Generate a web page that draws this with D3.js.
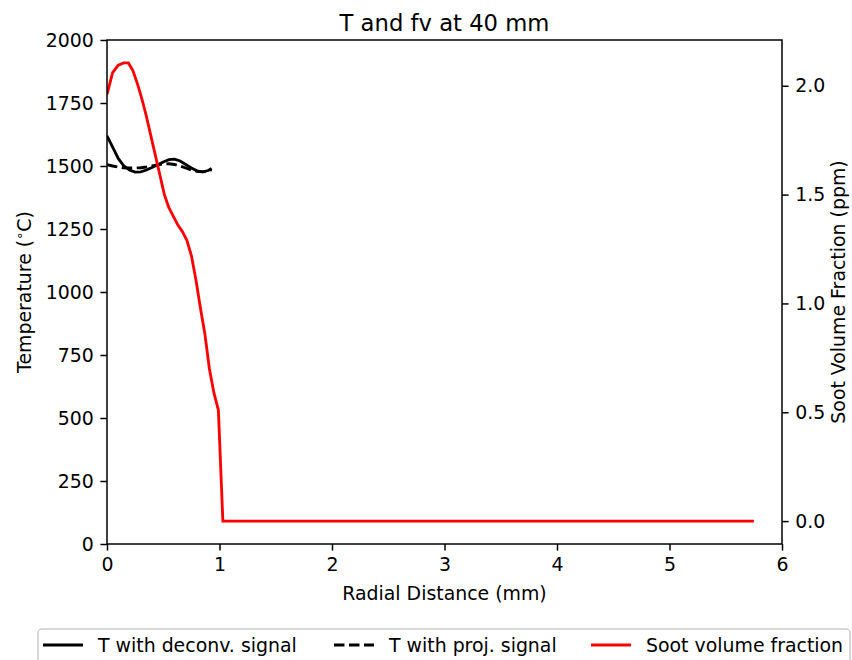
<!DOCTYPE html>
<html>
<head>
<meta charset="utf-8">
<script src="https://cdn.jsdelivr.net/npm/d3@7"></script>
<style>
  body { margin: 0; background: #fff; }
  text { font-family: "DejaVu Sans", sans-serif; fill: #000; }
</style>
</head>
<body>
<div id="grafico"></div>
<script>
// Radial positions (mm) and temperatures (°C)
const tempX = [0, 0.05, 0.1, 0.15, 0.2, 0.25, 0.3, 0.35, 0.4, 0.45, 0.5, 0.55, 0.6, 0.65, 0.7, 0.75, 0.8, 0.85, 0.9, 0.93]
const tempDeconv = [1620, 1575, 1530, 1500, 1484, 1476, 1477, 1484, 1494, 1505, 1516, 1525, 1527, 1520, 1506, 1492, 1481, 1477, 1482, 1490]
const tempProj = [1505, 1500, 1496, 1493, 1492, 1492, 1493, 1496, 1500, 1504, 1508, 1509, 1506, 1500, 1492, 1484, 1479, 1477, 1480, 1485]

// Soot volume fraction (ppm)
const fvX = [0, 0.05, 0.1, 0.15, 0.19, 0.23, 0.27, 0.31, 0.35, 0.39, 0.43, 0.47, 0.51, 0.55, 0.59, 0.63, 0.67, 0.71, 0.75, 0.79, 0.83, 0.87, 0.91, 0.95, 0.99, 1.03, 1.5, 2.0, 2.5, 3.0, 3.5, 4.0, 4.5, 5.0, 5.5, 5.75]
const fvVal = [1.96, 2.06, 2.095, 2.105, 2.105, 2.07, 2.01, 1.94, 1.86, 1.77, 1.68, 1.59, 1.50, 1.44, 1.40, 1.36, 1.33, 1.29, 1.22, 1.11, 0.98, 0.86, 0.70, 0.59, 0.51, 0, 0, 0, 0, 0, 0, 0, 0, 0, 0, 0]

const xTicks = [0, 1, 2, 3, 4, 5, 6]
const tTicks = [0, 250, 500, 750, 1000, 1250, 1500, 1750, 2000]
const fvTicks = [0.0, 0.5, 1.0, 1.5, 2.0]

const legendItems = [
  {label: "T with deconv. signal", color: "#000", dash: null},
  {label: "T with proj. signal", color: "#000", dash: "10.5,4.5"},
  {label: "Soot volume fraction", color: "red", dash: null}
]

// Dimensões (figura em ~136 dpi)
const margin = {top: 40, right: 70, bottom: 116, left: 107},
  width = 675,
  height = 504
const fs = 18.9, lw = 2.83, tick = 6.6

const svg = d3.select("#grafico")
  .append("svg")
    .attr("width", 852)
    .attr("height", 660)
  .append("g")
    .attr("transform", `translate(${margin.left},${margin.top})`)

// Escalas
const x = d3.scaleLinear().domain([0, 6]).range([0, width])
const y = d3.scaleLinear().domain([0, 2000]).range([height, 0])
const fvMin = d3.min(fvVal), fvMax = d3.max(fvVal)
const pad = (fvMax - fvMin) * 0.05
const y2 = d3.scaleLinear().domain([fvMin - pad, fvMax + pad]).range([height, 0])

// Eixos
function styleAxis(g) {
  g.selectAll("text").attr("font-size", fs + "px").attr("font-family", "DejaVu Sans, sans-serif").attr("fill", "#000")
  g.selectAll("line").attr("stroke", "#000").attr("stroke-width", 1.5)
  g.select(".domain").remove()
}

svg.append("g")
  .attr("transform", `translate(0,${height})`)
  .call(d3.axisBottom(x).tickValues(xTicks).tickFormat(d3.format("d")).tickSize(tick).tickPadding(tick))
  .call(styleAxis)

svg.append("g")
  .call(d3.axisLeft(y).tickValues(tTicks).tickFormat(d3.format("d")).tickSize(tick).tickPadding(tick))
  .call(styleAxis)

svg.append("g")
  .attr("transform", `translate(${width},0)`)
  .call(d3.axisRight(y2).tickValues(fvTicks).tickFormat(d3.format(".1f")).tickSize(tick).tickPadding(tick))
  .call(styleAxis)

// Linhas
svg.append("clipPath").attr("id", "clip")
  .append("rect").attr("width", width).attr("height", height)

const plot = svg.append("g").attr("clip-path", "url(#clip)")

const lineT = d3.line().x(d => x(d[0])).y(d => y(d[1]))
const lineFv = d3.line().x(d => x(d[0])).y(d => y2(d[1]))

plot.append("path")
  .datum(d3.zip(tempX, tempDeconv))
  .attr("d", lineT)
  .attr("fill", "none").attr("stroke", "#000").attr("stroke-width", lw)

plot.append("path")
  .datum(d3.zip(tempX, tempProj))
  .attr("d", lineT)
  .attr("fill", "none").attr("stroke", "#000").attr("stroke-width", lw)
  .attr("stroke-dasharray", "10.5,4.5")

plot.append("path")
  .datum(d3.zip(fvX, fvVal))
  .attr("d", lineFv)
  .attr("fill", "none").attr("stroke", "red").attr("stroke-width", lw)

// Moldura
svg.append("rect")
  .attr("width", width).attr("height", height)
  .attr("fill", "none").attr("stroke", "#000").attr("stroke-width", 1.5)

// Textos
svg.append("text")
  .attr("x", width / 2).attr("y", -9)
  .attr("text-anchor", "middle").attr("font-size", "22.7px")
  .text("T and fv at 40 mm")

svg.append("text")
  .attr("x", width / 2).attr("y", height + 56)
  .attr("text-anchor", "middle").attr("font-size", fs + "px")
  .text("Radial Distance (mm)")

const yl = svg.append("text")
  .attr("transform", `translate(-76,${height / 2}) rotate(-90)`)
  .attr("text-anchor", "middle").attr("font-size", fs + "px")
yl.append("tspan").text("Temperature (")
yl.append("tspan").attr("font-size", "13px").attr("dy", -7).text("∘")
yl.append("tspan").attr("dy", 7).text("C)")

svg.append("text")
  .attr("transform", `translate(${width + 63},${height / 2}) rotate(-90)`)
  .attr("text-anchor", "middle").attr("font-size", fs + "px")
  .text("Soot Volume Fraction (ppm)")

// Legenda
const leg = svg.append("g").attr("transform", `translate(${38 - margin.left},${629 - margin.top})`)
leg.append("rect")
  .attr("width", 812).attr("height", 40).attr("rx", 4)
  .attr("fill", "#fff").attr("stroke", "#ccc").attr("stroke-width", 1.5)

const legX = [5, 296, 553]
legendItems.forEach((it, i) => {
  const g = leg.append("g").attr("transform", `translate(${legX[i]},16)`)
  g.append("line").attr("x1", 0).attr("x2", 40).attr("y1", 0).attr("y2", 0)
    .attr("stroke", it.color).attr("stroke-width", lw)
    .attr("stroke-dasharray", it.dash)
  g.append("text").attr("x", 55).attr("y", 7).attr("font-size", fs + "px").text(it.label)
})
</script>
</body>
</html>
